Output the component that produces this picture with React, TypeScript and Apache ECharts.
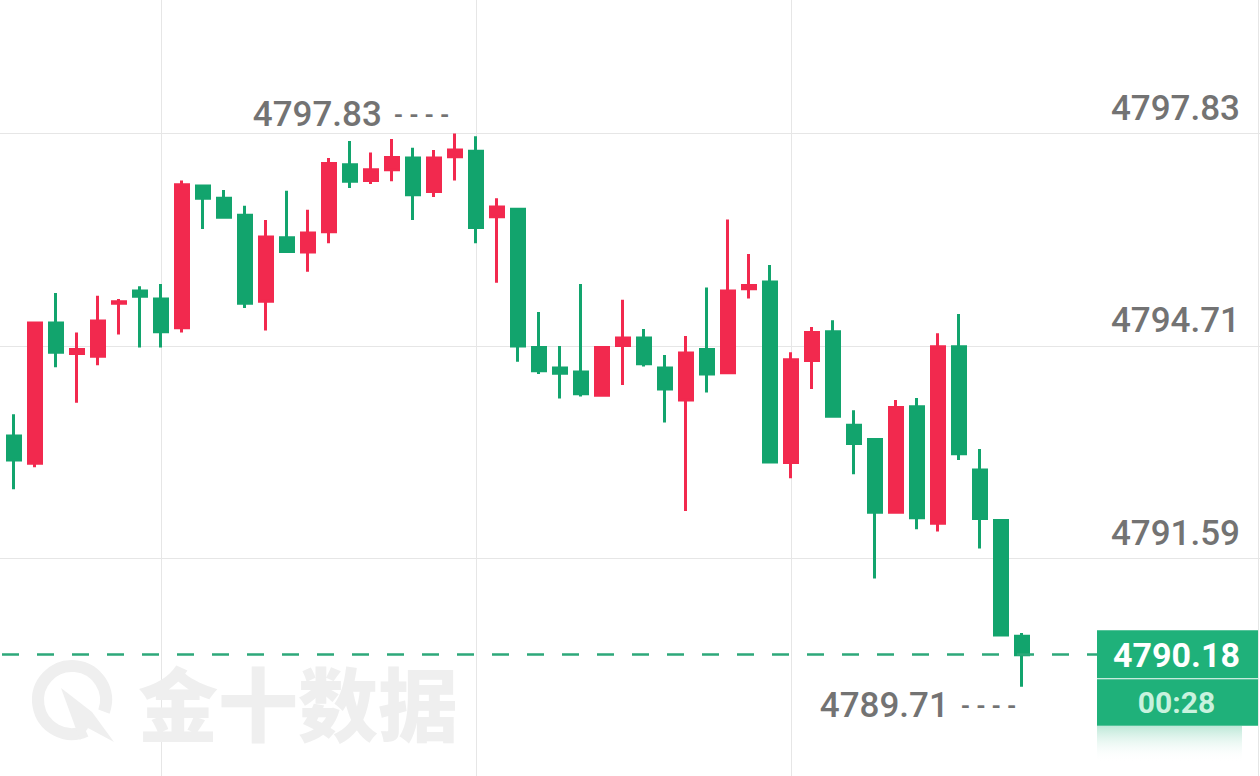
import React, { useEffect, useRef } from 'react';
import * as echarts from 'echarts';

const FONT_NUM = "Roboto, 'Noto Sans', sans-serif";

// category slots (one per minute); slot 0 is the cut-off candle at the left edge
const slotCount = 62;
const categories = Array.from({ length: slotCount }, (_, i) => `m${i}`);

const opens = [
  4793.39, 4792.99, 4795.05, 4794.60, 4794.56, 4795.34, 4795.52, 4795.40, 4794.98, 4797.06,
  4796.88, 4796.63, 4795.37, 4796.30, 4796.09, 4796.39, 4797.37, 4797.14, 4797.30, 4797.47,
  4796.98, 4797.49, 4797.57, 4796.61, 4796.72, 4794.69, 4794.39, 4794.33, 4793.99, 4794.72,
  4794.83, 4794.39, 4793.92, 4794.66, 4794.32, 4795.55, 4795.65, 4793.00, 4794.50, 4794.92,
  4793.55, 4793.34, 4792.27, 4793.82, 4792.11, 4794.70, 4792.89, 4792.15, 4790.45,
];
const closes = [
  4793.04, 4795.05, 4794.62, 4794.66, 4795.08, 4795.36, 4795.44, 4794.92, 4797.08, 4796.88,
  4796.60, 4795.34, 4796.31, 4796.10, 4796.37, 4797.39, 4797.13, 4797.30, 4797.48, 4796.93,
  4797.47, 4797.59, 4796.45, 4796.75, 4794.71, 4794.35, 4794.31, 4794.01, 4794.69, 4794.83,
  4794.45, 4794.08, 4794.61, 4794.30, 4795.52, 4795.60, 4793.01, 4794.51, 4794.91, 4793.68,
  4793.28, 4792.27, 4793.81, 4792.19, 4794.70, 4793.13, 4792.18, 4790.47, 4790.18,
];
const lows = [
  4792.61, 4792.93, 4794.40, 4793.88, 4794.43, 4794.88, 4794.69, 4794.69, 4794.91, 4796.43,
  4796.58, 4795.27, 4794.94, 4796.10, 4795.80, 4796.22, 4797.03, 4797.09, 4797.13, 4796.56,
  4796.90, 4797.14, 4796.22, 4795.64, 4794.48, 4794.30, 4793.94, 4793.97, 4793.98, 4794.14,
  4794.41, 4793.59, 4792.29, 4794.03, 4794.31, 4795.41, 4792.99, 4792.77, 4794.08, 4793.67,
  4792.83, 4791.30, 4792.26, 4792.02, 4791.99, 4793.04, 4791.74, 4790.45, 4789.71,
];
const highs = [
  4793.71, 4795.06, 4795.49, 4794.91, 4795.45, 4795.40, 4795.59, 4795.62, 4797.14, 4797.08,
  4797.00, 4796.77, 4796.56, 4796.99, 4796.71, 4797.47, 4797.72, 4797.55, 4797.75, 4797.62,
  4797.59, 4797.83, 4797.79, 4796.88, 4796.72, 4795.21, 4794.71, 4795.62, 4794.70, 4795.39,
  4794.96, 4794.58, 4794.86, 4795.57, 4796.57, 4796.06, 4795.90, 4794.62, 4794.99, 4795.09,
  4793.77, 4793.34, 4793.92, 4793.95, 4794.90, 4795.18, 4793.20, 4792.15, 4790.50,
];

const yTicks = [4791.59, 4794.71, 4797.83];
const yMin = 4788.40;
const yMax = 4799.79;
const lastPrice = 4790.18;
const countdown = '00:28';
const verticalGridSlots = [8, 23, 38];

const UP = '#F2294E';
const DOWN = '#12A46D';
const GRID = '#e6e6e6';
const LABEL = '#737373';
const BOX = '#1FB17A';

export default function App() {
  const ref = useRef<HTMLDivElement>(null);

  useEffect(() => {
    const chart = echarts.init(ref.current!, null, { renderer: 'svg' });

    const candleData = categories.map((_, i) => {
      const k = i - 1;
      if (k < 0 || k >= opens.length) return ['-', '-', '-', '-'];
      return [opens[k], closes[k], lows[k], highs[k]];
    });

    const markLabel = (p: any) => `{v|${Number(p.value).toFixed(2)}}{d|  - - - -}`;

    chart.setOption({
      animation: false,
      backgroundColor: '#ffffff',
      grid: {
        left: -7, right: -14, top: 0, bottom: 0,
        containLabel: false,
        outerBoundsMode: 'none',
      },
      xAxis: {
        type: 'category',
        data: categories,
        boundaryGap: false,
        axisLine: { show: false },
        axisTick: { show: false },
        axisLabel: { show: false },
        splitLine: {
          show: true,
          interval: (index: number) => verticalGridSlots.includes(index),
          lineStyle: { color: GRID, width: 1 },
        },
      },
      yAxis: {
        type: 'value',
        position: 'right',
        min: yMin,
        max: yMax,
        scale: true,
        axisLine: { show: false },
        axisTick: { show: false, customValues: yTicks },
        axisLabel: {
          customValues: yTicks,
          inside: true,
          margin: 34,
          verticalAlign: 'bottom',
          padding: [0, 0, 8, 0],
          color: LABEL,
          fontSize: 35,
          fontWeight: 500,
          fontFamily: FONT_NUM,
          formatter: (v: number) => v.toFixed(2),
        },
        splitLine: { show: true, lineStyle: { color: GRID, width: 1 } },
      },
      series: [
        {
          type: 'candlestick',
          data: candleData,
          clip: false,
          barWidth: 14,
          itemStyle: {
            color: UP,
            color0: DOWN,
            borderColor: UP,
            borderColor0: DOWN,
            borderWidth: 3,
          },
          markPoint: {
            symbol: 'circle',
            symbolSize: 1,
            silent: true,
            itemStyle: { color: 'rgba(0,0,0,0)' },
            label: {
              show: true,
              position: 'left',
              distance: 5,
              formatter: markLabel,
              rich: {
                v: { fontSize: 35, fontWeight: 500, fontFamily: FONT_NUM, color: LABEL },
                d: { fontSize: 24, fontFamily: FONT_NUM, color: LABEL, fontWeight: 'bold' },
              },
            },
            data: [
              { type: 'max', valueDim: 'highest', label: { offset: [0, -19] } },
              { type: 'min', valueDim: 'lowest', label: { offset: [0, 19] } },
            ],
          },
          markLine: {
            silent: true,
            symbol: ['none', 'none'],
            label: { show: false },
            lineStyle: { color: '#2DA87A', width: 2.5, type: [17, 18], dashOffset: 26.3 },
            data: [{ yAxis: lastPrice }],
          },
        },
      ],
    });

    const yPix = chart.convertToPixel({ yAxisIndex: 0 }, lastPrice) as number;
    const boxX = 1097;
    const boxW = 161;

    chart.setOption({
      graphic: [
        // right border
        { type: 'line', z: 1, silent: true, shape: { x1: 1258.5, y1: 0, x2: 1258.5, y2: 776 }, style: { stroke: GRID, lineWidth: 1 } },
        // watermark logo
        {
          type: 'arc', z: 0, silent: true,
          shape: { cx: 72, cy: 700, r: 34, startAngle: 1.15, endAngle: 0.35 + Math.PI * 2, clockwise: true },
          style: { stroke: '#efefef', lineWidth: 12, fill: null },
        },
        {
          type: 'polygon', z: 0, silent: true,
          shape: { points: [[61, 688], [92, 712], [114, 742], [88, 728], [80, 740]] },
          style: { fill: '#efefef' },
        },
        {
          type: 'text', z: 0, silent: true,
          style: {
            text: '金十数据', x: 138, y: 700, fill: '#efefef',
            fontSize: 80, fontWeight: 900, fontFamily: "'Noto Sans CJK SC', sans-serif",
            align: 'left', verticalAlign: 'middle',
          },
        },
        // current price box
        {
          type: 'rect', z: 100, silent: true,
          shape: { x: boxX, y: yPix - 24.5, width: boxW, height: 48 },
          style: { fill: BOX },
        },
        {
          type: 'rect', z: 100, silent: true,
          shape: { x: boxX, y: yPix + 24.5, width: boxW, height: 46.5 },
          style: { fill: BOX },
        },
        {
          type: 'rect', z: 99, silent: true,
          shape: { x: boxX, y: yPix + 71, width: 145, height: 36 },
          style: {
            fill: new echarts.graphic.LinearGradient(0, 0, 0, 1, [
              { offset: 0, color: 'rgba(31,177,122,0.3)' },
              { offset: 1, color: 'rgba(255,255,255,0)' },
            ]),
          },
        },
        {
          type: 'text', z: 101, silent: true,
          style: {
            text: lastPrice.toFixed(2), x: boxX + boxW / 2 - 1, y: yPix,
            fill: '#ffffff', fontSize: 34, fontWeight: 'bold', fontFamily: FONT_NUM,
            align: 'center', verticalAlign: 'middle',
          },
        },
        {
          type: 'text', z: 101, silent: true,
          style: {
            text: countdown, x: boxX + boxW / 2 - 1, y: yPix + 47.5,
            fill: '#c8f2de', fontSize: 30, fontWeight: 'bold', fontFamily: FONT_NUM,
            align: 'center', verticalAlign: 'middle',
          },
        },
      ],
    });

    return () => chart.dispose();
  }, []);

  return (
    <div
      ref={ref}
      style={{ position: 'fixed', left: 0, top: 0, width: 1260, height: 776, background: '#fff' }}
    />
  );
}
